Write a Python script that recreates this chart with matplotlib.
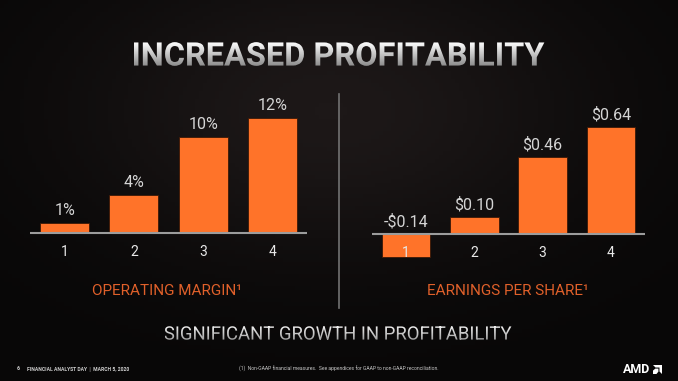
import numpy as np
import matplotlib
matplotlib.use('Agg')
import matplotlib.pyplot as plt
from matplotlib.textpath import TextPath
from matplotlib.patches import PathPatch, Polygon
from matplotlib.font_manager import FontProperties
from matplotlib.transforms import Affine2D
from matplotlib.colors import LinearSegmentedColormap

plt.rcParams['font.family'] = ['Roboto', 'DejaVu Sans']

# data
quarters = ['1', '2', '3', '4']
margin = [1, 4, 10, 12]
margin_labels = ['1%', '4%', '10%', '12%']
eps = [-0.14, 0.10, 0.46, 0.64]
eps_labels = ['-$0.14', '$0.10', '$0.46', '$0.64']

W, H = 678, 381
ORANGE = '#ff7329'

fig = plt.figure(figsize=(W / 100, H / 100), dpi=100, facecolor='#0a0909')

# background layer in pixel coords (y down)
bg = fig.add_axes([0, 0, 1, 1])
bg.axis('off')
yy, xx = np.mgrid[0:H:4, 0:W:4]
glow = np.exp(-(((xx - 330) / 260.0) ** 2 + ((yy - 110) / 150.0) ** 2))
bg.imshow(glow, extent=(0, W, H, 0), origin='upper', aspect='auto',
          cmap=LinearSegmentedColormap.from_list('bg', ['#080707', '#1d1818']), zorder=0)


def gradient_text(s, cx, cy, size, weight, top, bottom):
    tp = TextPath((0, 0), s, size=size, prop=FontProperties(family='Roboto', weight=weight))
    bb = tp.get_extents()
    tr = Affine2D().translate(-(bb.x0 + bb.x1) / 2, -(bb.y0 + bb.y1) / 2).scale(1, -1).translate(cx, cy)
    path = tr.transform_path(tp)
    patch = PathPatch(path, facecolor='none', edgecolor='none')
    bg.add_patch(patch)
    b2 = path.get_extents()
    grad = np.linspace(0, 1, 64).reshape(-1, 1)
    im = bg.imshow(grad, extent=(b2.x0, b2.x1, b2.y1, b2.y0), origin='upper', aspect='auto',
                   cmap=LinearSegmentedColormap.from_list('t', [top, bottom]), zorder=2)
    im.set_clip_path(patch)


gradient_text('INCREASED PROFITABILITY', 339, 54, 32.5, 'bold', '#ffffff', '#8c8c8c')
gradient_text('SIGNIFICANT GROWTH IN PROFITABILITY', 338, 333, 18.5, 'normal', '#f2f2f2', '#a0a0a0')

# divider
bg.plot([339, 339], [94, 308], color='#727272', lw=1.2, zorder=1)

# AMD logo mark
outer = [(0, 0), (1, 0), (1, 1), (0.72, 0.72), (0.72, 0.28), (0.28, 0.28)]
inner = [(0.0, 0.62), (0.26, 0.4), (0.6, 0.4), (0.6, 0.74), (0.38, 1.0), (0.0, 1.0)]
for shape in (outer, inner):
    pts = [(653 + 9 * px, 365 + 9 * py) for px, py in shape]
    bg.add_patch(Polygon(pts, closed=True, facecolor='white', edgecolor='none', zorder=2))

bg.set_xlim(0, W)
bg.set_ylim(H, 0)


def panel(x0, x1, y0, y1, vals, labels, ylim):
    ax = fig.add_axes([x0 / W, 1 - y1 / H, (x1 - x0) / W, (y1 - y0) / H])
    ax.axis('off')
    ax.patch.set_alpha(0)
    x = np.arange(1, len(vals) + 1)
    ax.bar(x, vals, width=0.71, color=ORANGE, edgecolor='#3a1806', linewidth=0.6, zorder=2)
    ax.axhline(0, color='#9c9c9c', lw=1.5, zorder=3)
    for xi, v, lab in zip(x, vals, labels):
        ax.annotate(lab, (xi, max(v, 0)), xytext=(0, 8), textcoords='offset pixels',
                    ha='center', va='baseline', fontsize=11.5, color='#d4d4d4',
                    parse_math=False)
    for xi, q in zip(x, quarters):
        ax.annotate(q, (xi, 0), xytext=(0, -19), textcoords='offset pixels',
                    ha='center', va='center', fontsize=10, color='#e8e8e8', zorder=4)
    ax.set_xlim(0.5, 4.5)
    ax.set_ylim(*ylim)
    return ax


panel(30, 307, 95, 270, margin, margin_labels, (-(270 - 233) / 9.6, (233 - 95) / 9.6))
panel(372, 645, 95, 270, eps, eps_labels, (-(270 - 234) / 167.0, (234 - 95) / 167.0))

fig.text(167 / W, 1 - 291 / H, 'OPERATING MARGIN\u00b9', ha='center', va='center',
         fontsize=11, color='#e0602a')
fig.text(508 / W, 1 - 291 / H, 'EARNINGS PER SHARE\u00b9', ha='center', va='center',
         fontsize=11, color='#e0602a')

# footer
fig.text(17 / W, 1 - 369 / H, '6', fontsize=3.8, color='#d0d0d0', va='center', weight='bold')
fig.text(27 / W, 1 - 369 / H, 'FINANCIAL ANALYST DAY  |  MARCH 5, 2020', fontsize=3.6,
         color='#d0d0d0', va='center', weight='bold')
fig.text(339 / W, 1 - 369 / H,
         '(1)  Non-GAAP financial measures.  See appendices for GAAP to non-GAAP reconciliation.',
         fontsize=3.6, color='#c8c8c8', va='center', ha='center')
fig.text(623 / W, 1 - 369.5 / H, 'AMD', fontsize=9, color='white', va='center', weight='bold')

fig.savefig('out.png', dpi=100, facecolor=fig.get_facecolor())
